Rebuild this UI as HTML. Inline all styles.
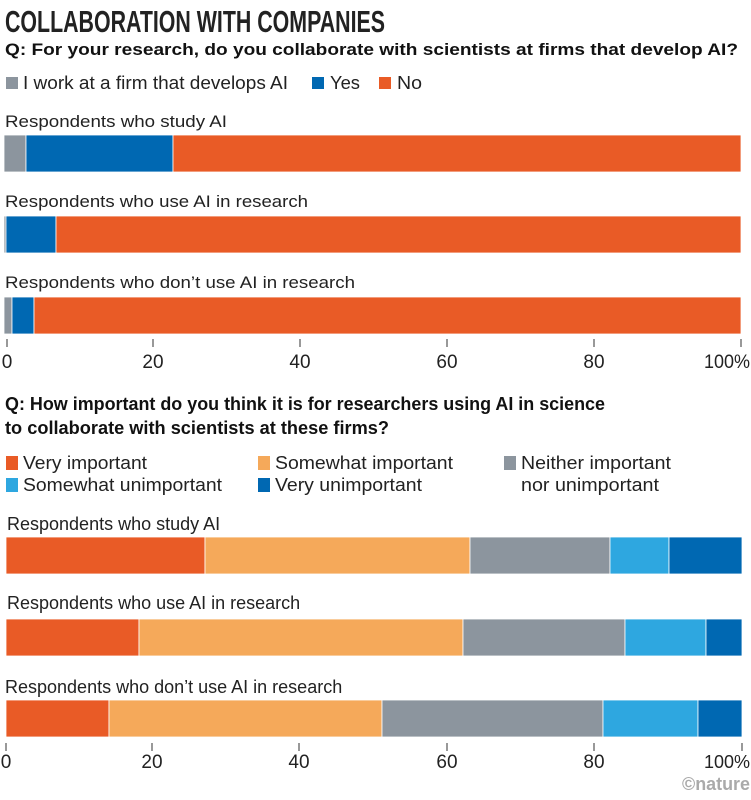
<!DOCTYPE html>
<html><head><meta charset="utf-8"><style>
body{margin:0;background:#fff;overflow:hidden;}
svg{display:block;font-family:"Liberation Sans",sans-serif;}
</style></head><body>
<svg width="751" height="800" viewBox="0 0 751 800">
<text x="5" y="32" font-family="Liberation Sans Narrow, Liberation Sans, sans-serif" font-weight="bold" font-size="31" fill="#222" textLength="380" lengthAdjust="spacingAndGlyphs">COLLABORATION WITH COMPANIES</text>
<text x="5" y="55" font-weight="bold" font-size="17" fill="#111" textLength="733" lengthAdjust="spacingAndGlyphs">Q: For your research, do you collaborate with scientists at firms that develop AI?</text>
<rect x="6" y="77" width="12" height="12" fill="#8c959e"/>
<text x="23" y="89" font-size="18" fill="#222" textLength="265" lengthAdjust="spacingAndGlyphs">I work at a firm that develops AI</text>
<rect x="312" y="77" width="12" height="12" fill="#0068b2"/>
<text x="330" y="89" font-size="18" fill="#222" textLength="30" lengthAdjust="spacingAndGlyphs">Yes</text>
<rect x="379" y="77" width="12" height="12" fill="#e95b26"/>
<text x="397" y="89" font-size="18" fill="#222" textLength="25" lengthAdjust="spacingAndGlyphs">No</text>

<g font-size="17" fill="#222">
<text x="5" y="127" textLength="222" lengthAdjust="spacingAndGlyphs">Respondents who study AI</text>
<text x="5" y="207" textLength="303" lengthAdjust="spacingAndGlyphs">Respondents who use AI in research</text>
<text x="5" y="288" textLength="350" lengthAdjust="spacingAndGlyphs">Respondents who don’t use AI in research</text>
</g>
<g stroke="#fff" stroke-width="0.8">
<rect x="4" y="135" width="22" height="37" fill="#8c959e"/>
<rect x="26" y="135" width="147" height="37" fill="#0068b2"/>
<rect x="173" y="135" width="568" height="37" fill="#e95b26"/>
<rect x="4" y="216" width="2" height="37" fill="#8c959e"/>
<rect x="6" y="216" width="50" height="37" fill="#0068b2"/>
<rect x="56" y="216" width="685" height="37" fill="#e95b26"/>
<rect x="4" y="297" width="8" height="37" fill="#8c959e"/>
<rect x="12" y="297" width="22" height="37" fill="#0068b2"/>
<rect x="34" y="297" width="707" height="37" fill="#e95b26"/>
</g>
<g stroke="#333" stroke-width="1">
<line x1="7" y1="339" x2="7" y2="347"/><line x1="153" y1="339" x2="153" y2="347"/><line x1="300" y1="339" x2="300" y2="347"/><line x1="447" y1="339" x2="447" y2="347"/><line x1="594" y1="339" x2="594" y2="347"/><line x1="741" y1="339" x2="741" y2="347"/>
</g>
<g font-size="19" fill="#222" text-anchor="middle">
<text x="7" y="368">0</text><text x="153" y="368">20</text><text x="300" y="368">40</text><text x="447" y="368">60</text><text x="594" y="368">80</text><text x="750" y="368" text-anchor="end" textLength="46" lengthAdjust="spacingAndGlyphs">100%</text>
</g>

<text x="5" y="410" font-family="Liberation Sans Narrow, Liberation Sans, sans-serif" font-weight="bold" font-size="18" fill="#111" textLength="600" lengthAdjust="spacingAndGlyphs">Q: How important do you think it is for researchers using AI in science</text>
<text x="5" y="434" font-family="Liberation Sans Narrow, Liberation Sans, sans-serif" font-weight="bold" font-size="18" fill="#111" textLength="384" lengthAdjust="spacingAndGlyphs">to collaborate with scientists at these firms?</text>
<g font-family="Liberation Sans Narrow, Liberation Sans, sans-serif" font-size="18" fill="#222">
<rect x="6" y="456" width="12" height="14" fill="#e95b26"/><text x="23" y="469" textLength="124" lengthAdjust="spacingAndGlyphs">Very important</text>
<rect x="258" y="456" width="12" height="14" fill="#f5a95a"/><text x="275" y="469" textLength="178" lengthAdjust="spacingAndGlyphs">Somewhat important</text>
<rect x="504" y="456" width="12" height="14" fill="#8c959e"/><text x="521" y="469" textLength="150" lengthAdjust="spacingAndGlyphs">Neither important</text>
<text x="521" y="491" textLength="138" lengthAdjust="spacingAndGlyphs">nor unimportant</text>
<rect x="6" y="478" width="12" height="14" fill="#2ea7e0"/><text x="23" y="491" textLength="199" lengthAdjust="spacingAndGlyphs">Somewhat unimportant</text>
<rect x="258" y="478" width="12" height="14" fill="#0068b2"/><text x="275" y="491" textLength="147" lengthAdjust="spacingAndGlyphs">Very unimportant</text>
<text x="7" y="530">Respondents who study AI</text>
<text x="7" y="609">Respondents who use AI in research</text>
<text x="5" y="693">Respondents who don’t use AI in research</text>
</g>
<g stroke="#fff" stroke-width="0.8">
<rect x="6" y="537" width="199" height="37" fill="#e95b26"/>
<rect x="205" y="537" width="265" height="37" fill="#f5a95a"/>
<rect x="470" y="537" width="140" height="37" fill="#8c959e"/>
<rect x="610" y="537" width="59" height="37" fill="#2ea7e0"/>
<rect x="669" y="537" width="73" height="37" fill="#0068b2"/>
<rect x="6" y="619" width="133" height="37" fill="#e95b26"/>
<rect x="139" y="619" width="324" height="37" fill="#f5a95a"/>
<rect x="463" y="619" width="162" height="37" fill="#8c959e"/>
<rect x="625" y="619" width="81" height="37" fill="#2ea7e0"/>
<rect x="706" y="619" width="36" height="37" fill="#0068b2"/>
<rect x="6" y="700" width="103" height="37" fill="#e95b26"/>
<rect x="109" y="700" width="273" height="37" fill="#f5a95a"/>
<rect x="382" y="700" width="221" height="37" fill="#8c959e"/>
<rect x="603" y="700" width="95" height="37" fill="#2ea7e0"/>
<rect x="698" y="700" width="44" height="37" fill="#0068b2"/>
</g>
<g stroke="#333" stroke-width="1">
<line x1="6" y1="743" x2="6" y2="751"/><line x1="152" y1="743" x2="152" y2="751"/><line x1="299" y1="743" x2="299" y2="751"/><line x1="447" y1="743" x2="447" y2="751"/><line x1="594" y1="743" x2="594" y2="751"/><line x1="742" y1="743" x2="742" y2="751"/>
</g>
<g font-size="19" fill="#222" text-anchor="middle">
<text x="6" y="768">0</text><text x="152" y="768">20</text><text x="299" y="768">40</text><text x="447" y="768">60</text><text x="594" y="768">80</text>
</g>
<text x="750" y="768" text-anchor="end" font-size="18" fill="#222">100%</text>
<text x="682" y="790" font-weight="bold" font-size="18" fill="#aaa" textLength="68" lengthAdjust="spacingAndGlyphs">©nature</text>
</svg>
</body></html>
